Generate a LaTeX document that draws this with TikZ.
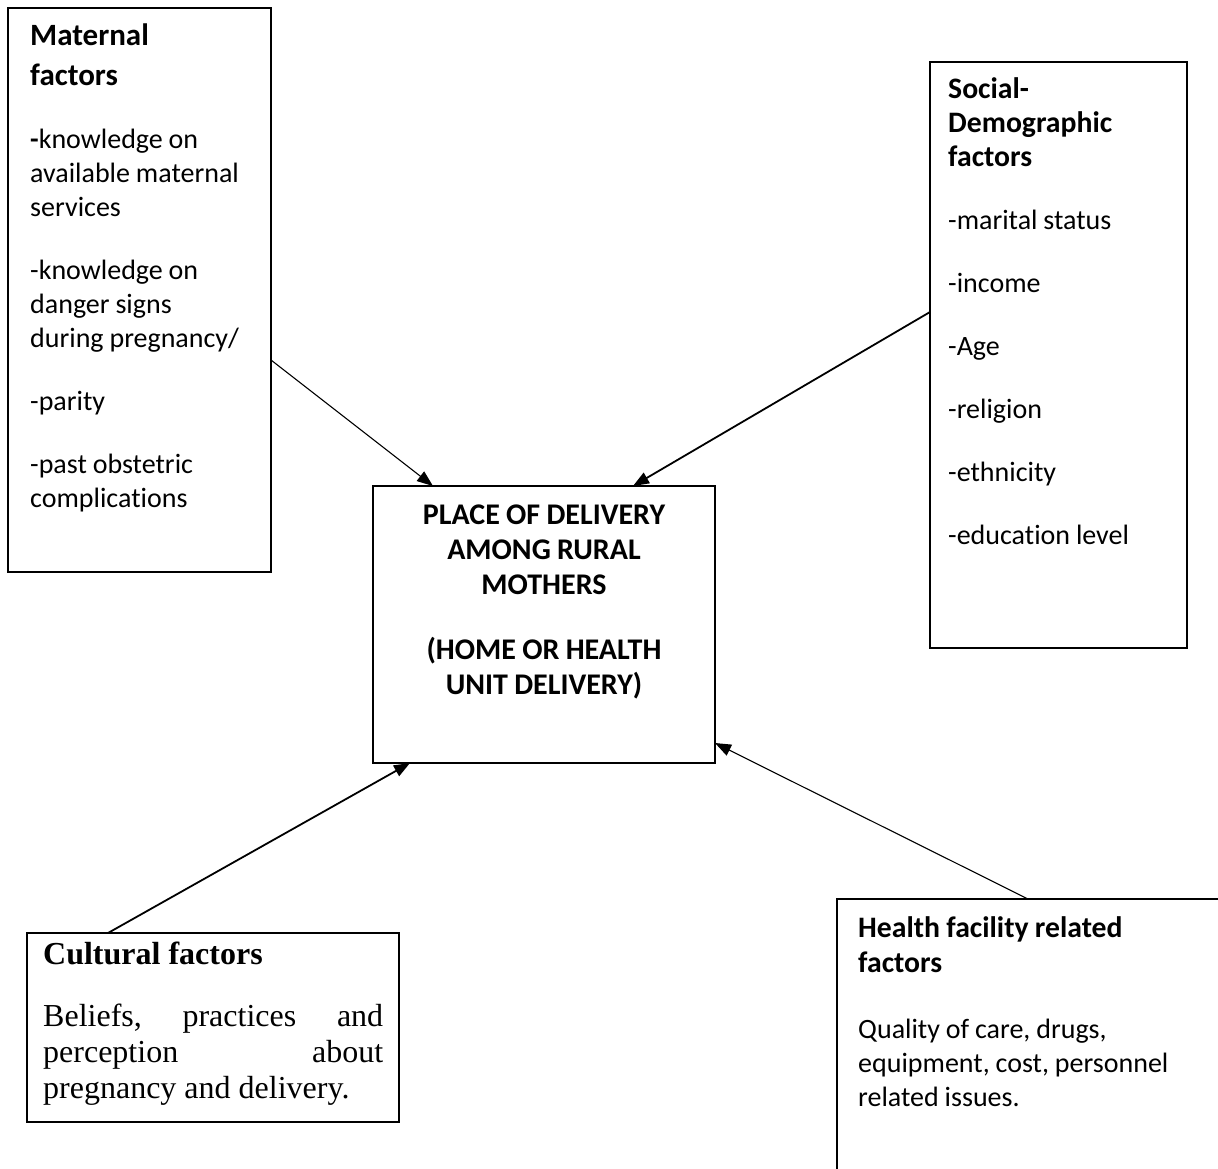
\documentclass[tikz,border=0pt]{standalone}
\usepackage{fontspec}
\setmainfont{Carlito}[Ligatures=NoCommon]
\newfontfamily\tnr{Liberation Serif}
\usetikzlibrary{arrows.meta,calc}
\begin{document}
\begin{tikzpicture}[x=1pt,y=-1pt,
  box/.style={draw, line width=1.5pt, inner sep=0pt, outer sep=0pt, anchor=north west},
  txt/.style={inner sep=0pt, anchor=base west, align=left, execute at begin node={\spaceskip=0.21em\relax}},
  ttl/.style={txt, font=\fontsize{31}{40}\selectfont\bfseries},
  ttls/.style={txt, font=\fontsize{29.7}{34}\selectfont\bfseries},
  bod/.style={txt, font=\fontsize{28}{34}\selectfont},
  arr/.style={-{Triangle[length=16pt,width=12pt]}, line width=1.1pt},
  arrb/.style={arr, line width=1.8pt}]
\useasboundingbox (0,0) rectangle (1218,1168);
\clip (0,0) rectangle (1218,1168);
\fill[white] (0,0) rectangle (1218,1168);

% boxes
\node[box, minimum width=263pt, minimum height=564pt] (mat) at (8,8) {};
\node[box, minimum width=257pt, minimum height=586pt] (soc) at (930,62) {};
\node[box, minimum width=342pt, minimum height=277pt] (cen) at (373,486) {};
\node[box, minimum width=372pt, minimum height=189pt] (cul) at (27,933) {};
\node[box, minimum width=420pt, minimum height=320pt] (hea) at (837,899) {};

% maternal
\node[ttl, text width=240pt] (matt) at (30,45) {Maternal\\factors};
\node[bod, text width=240pt] (matb) at (30,148) {{\bfseries -}knowledge on\\available maternal\\services\\[29pt]-knowledge on\\danger signs\\during pregnancy/\\[29pt]-parity\\[29pt]-past obstetric\\complications};

% social
\node[ttls, text width=230pt] (soct) at (948,98) {Social-\\Demographic\\factors};
\node[bod, text width=230pt] (socb) at (948,229) {-marital status\\[29pt]-income\\[29pt]-Age\\[29pt]-religion\\[29pt]-ethnicity\\[29pt]-education level};

% centre
\node[inner sep=0pt, anchor=base, align=center, text width=330pt, execute at begin node={\spaceskip=0.21em\relax}, font=\fontsize{30}{35}\selectfont\bfseries] (cent) at (544,524) {PLACE OF DELIVERY\\AMONG RURAL\\MOTHERS\\[30pt](HOME OR HEALTH\\UNIT DELIVERY)};

% cultural
\node[txt, text width=340pt, execute at begin node={\spaceskip=0.25em\relax}, font=\tnr\fontsize{32}{36}\selectfont\bfseries] (cult) at (43,964) {Cultural factors};
\node[txt, text width=340pt, execute at begin node={\spaceskip=0.25em\relax}, font=\tnr\fontsize{32}{36}\selectfont] (culb) at (43,1026) {\makebox[340pt]{Beliefs,\hfill practices\hfill and}\\\makebox[340pt]{perception\hfill about}\\pregnancy and delivery.};

% health
\node[txt, text width=340pt, font=\fontsize{29.7}{35}\selectfont\bfseries] (heat) at (858,937) {Health facility related\\factors};
\node[bod, text width=340pt] (heab) at (858,1038) {Quality of care, drugs,\\equipment, cost, personnel\\related issues.};

% connectors
\draw[arr] ($(mat.north east)+(0,352)$) -- ($(cen.north west)+(60,0)$);
\draw[arrb] ($(soc.north west)+(0,250)$) -- ($(cen.north west)+(260,0)$);
\draw[arrb] ($(cul.north west)+(81,0)$) -- ($(cen.south west)+(37,0)$);
\draw[arr] ($(hea.north west)+(191,0)$) -- ($(cen.north east)+(0,257)$);
\end{tikzpicture}
\end{document}
